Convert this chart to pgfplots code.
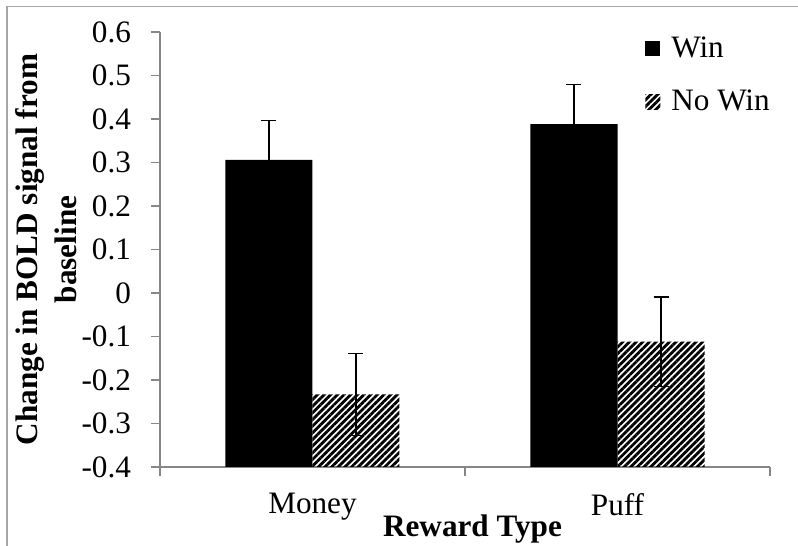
\documentclass[border=0pt]{standalone}
\usepackage{pgfplots}
\pgfplotsset{compat=1.18}
\usepackage{fontspec}
\setmainfont{Liberation Serif}
\usetikzlibrary{patterns.meta}
\definecolor{axgray}{HTML}{868686}
\definecolor{frgray}{HTML}{A6A6A6}
\newcommand\cf{\fontsize{15.6}{19.5}\selectfont}
\begin{document}
\begin{tikzpicture}
\useasboundingbox (-80pt,-39.5pt) rectangle (319pt,233.5pt);
\draw[frgray, line width=0.6pt] (-76.5pt,-45pt) -- (-76.5pt,230.25pt) -- (325pt,230.25pt);
\begin{axis}[
  at={(0pt,0pt)}, anchor=south west,
  scale only axis, width=305pt, height=217.5pt,
  xmin=-0.5, xmax=1.5, ymin=-0.4, ymax=0.6,
  y coord trafo/.code={\pgfmathparse{#1+0.4}},
  y coord inv trafo/.code={\pgfmathparse{#1-0.4}},
  ybar=0pt, bar width=43.5pt,
  axis x line=bottom, axis y line=left,
  axis line style={-, axgray, line width=0.6pt},
  tick align=outside, major tick length=4.5pt,
  tick style={axgray, line width=0.6pt},
  ytick={-0.4,-0.3,-0.2,-0.1,0,0.1,0.2,0.3,0.4,0.5,0.6},
  yticklabels={-0.4,-0.3,-0.2,-0.1,0,0.1,0.2,0.3,0.4,0.5,0.6},
  yticklabel style={xshift=-6.5pt},
  xtick={0,1}, xticklabels={Money,Puff},
  xticklabel style={yshift=-5pt},
  xtick style={draw=none},
  extra x ticks={-0.5,0.5,1.5}, extra x tick labels={},
  extra x tick style={xtick style={draw=axgray}},
  ticklabel style={font=\cf},
  ylabel={Change in BOLD signal from\\baseline},
  ylabel style={font=\cf\bfseries, align=center, at={(axis description cs:-0.1874,0.5)}, anchor=center},
  xlabel={Reward Type},
  xlabel style={font=\cf\bfseries, at={(axis description cs:0.5123,0)}, anchor=base, yshift=-34.5pt},
  legend cell align=left,
  legend style={at={(0.795,1)}, anchor=north west, draw=none, fill=none, inner sep=0pt, row sep=11pt, font=\cf,
    /tikz/every odd column/.append style={column sep=3.5pt}},
  legend image code/.code={\fill[#1] (0pt,-3.75pt) rectangle (7.5pt,3.75pt);},
  error bars/error bar style={black, line width=0.65pt, solid},
  error bars/error mark options={black, rotate=90, mark size=3.75pt, line width=0.65pt},
]
\addplot[fill=black, draw=none, error bars/y dir=both, error bars/y explicit]
  coordinates {(0,0.306) +- (0,0.090) (1,0.388) +- (0,0.092)};
\addplot[draw=none, pattern={Lines[angle=45,distance=2.35pt,line width=1.4pt]}, error bars/y dir=both, error bars/y explicit]
  coordinates {(0,-0.233) +- (0,0.094) (1,-0.112) +- (0,0.103)};
\legend{Win, No Win}
\end{axis}
\end{tikzpicture}
\end{document}
